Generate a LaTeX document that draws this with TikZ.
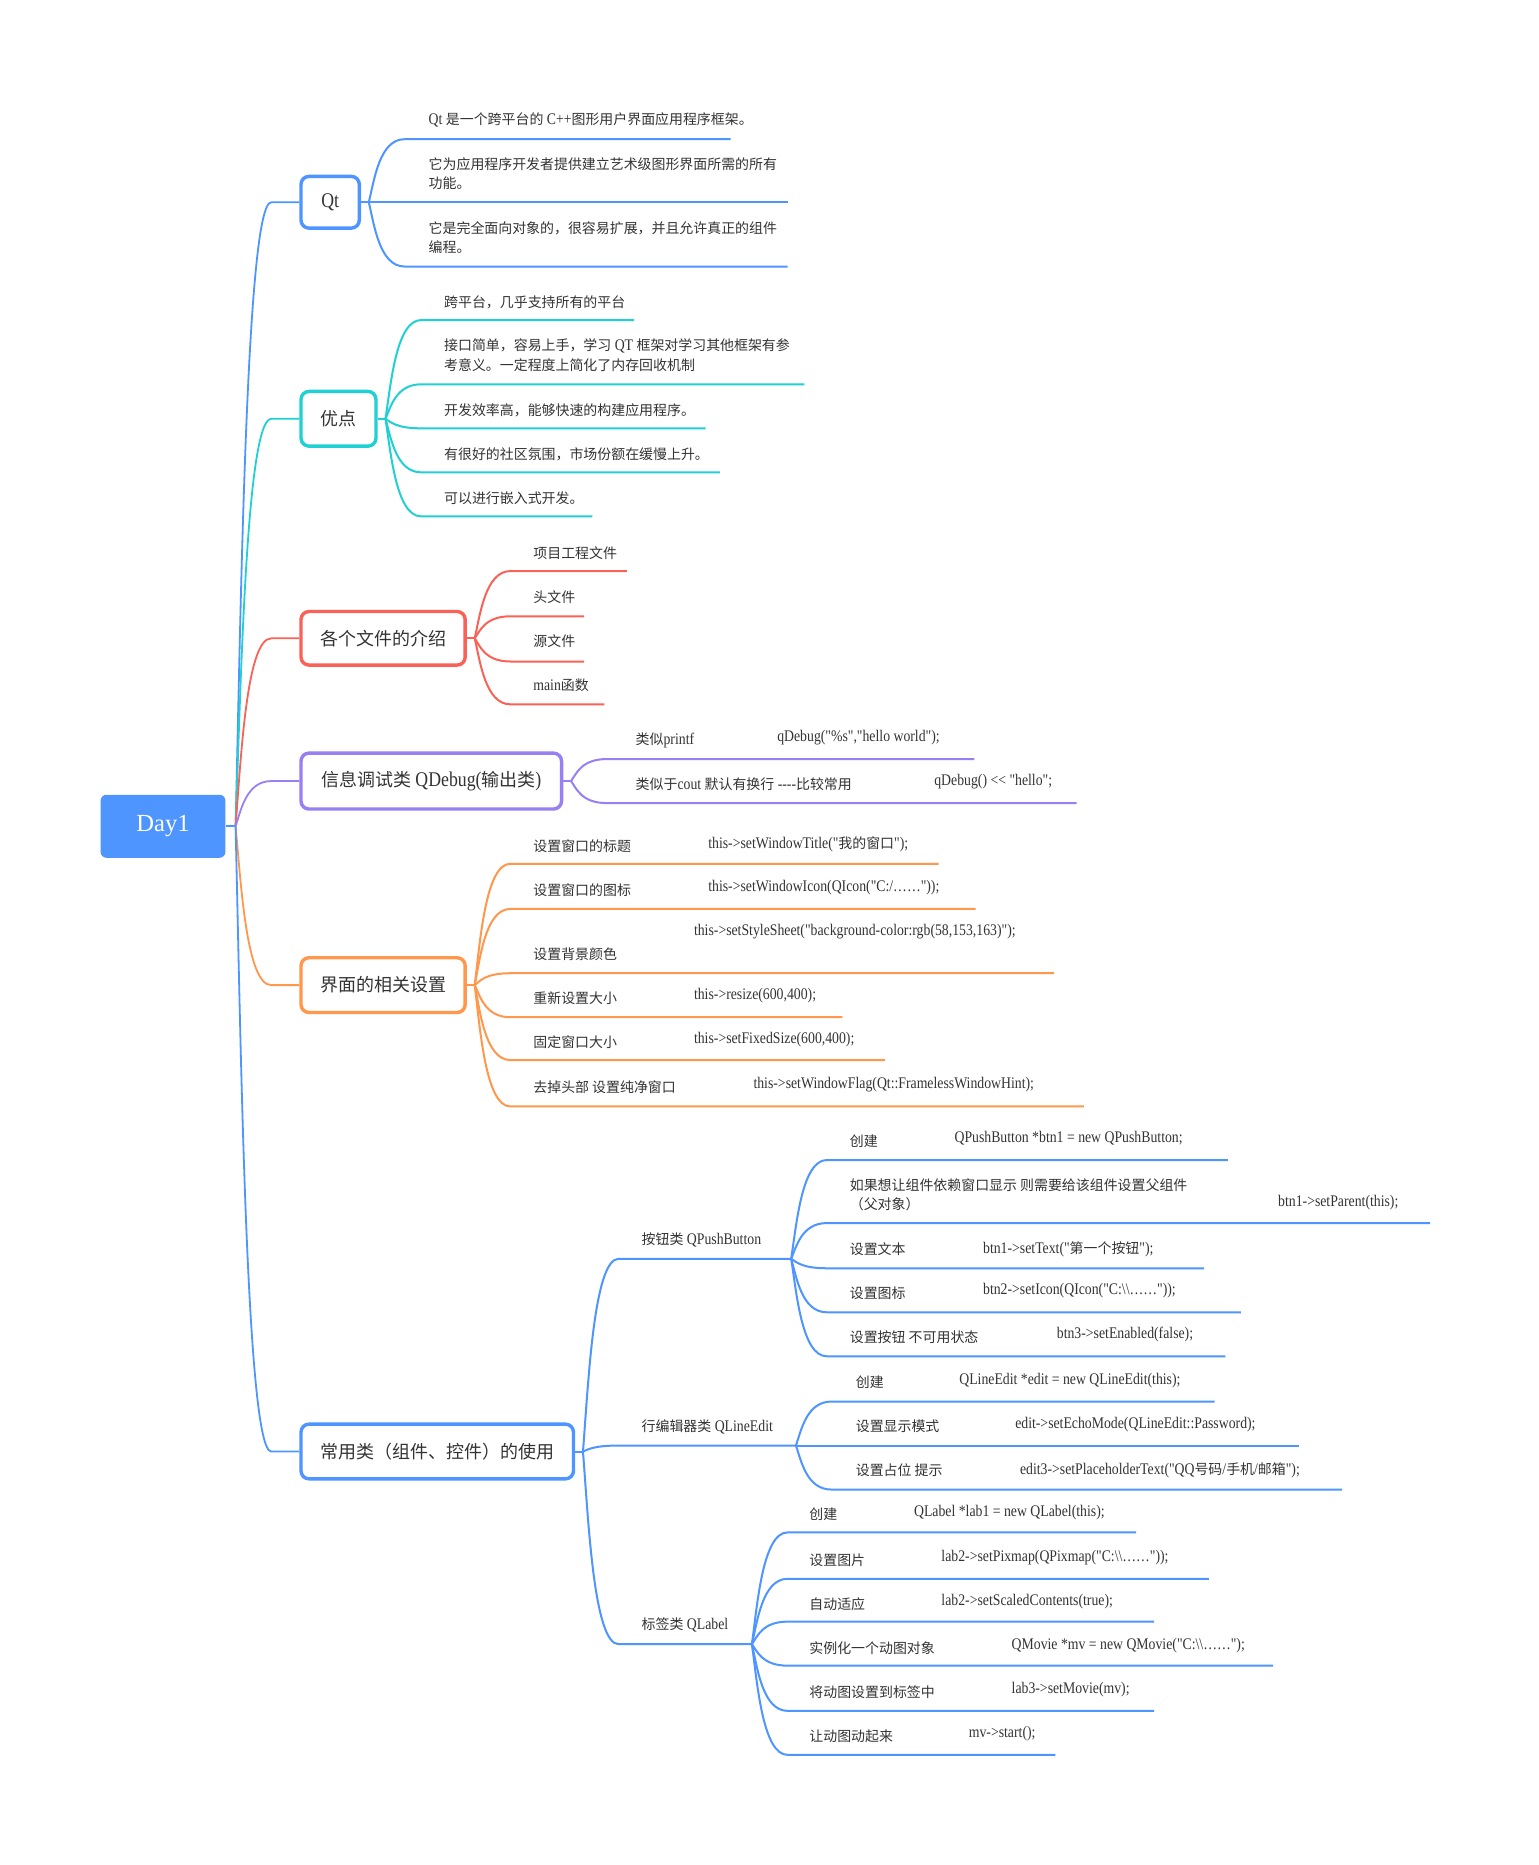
\documentclass[tikz,border=0pt]{standalone}
\usepackage{fontspec}
\setmainfont{Liberation Serif}[FakeStretch=0.85,Ligatures={TeXOff,NoCommon}]
\newfontfamily\cjk{Noto Sans CJK SC}[Scale=0.86]
\newfontfamily\dayfont{Liberation Serif}
\usetikzlibrary{calc}
\newcommand\zh[1]{{\cjk #1}}
\definecolor{cblue}{RGB}{78,149,255}
\definecolor{ccyan}{RGB}{32,208,210}
\definecolor{cred}{RGB}{250,98,88}
\definecolor{cpurple}{RGB}{152,128,243}
\definecolor{corange}{RGB}{255,151,76}
\definecolor{txt}{RGB}{51,51,51}
\def\uu{0.59487pt}
\newcommand\lf[6]{%
  \coordinate (#3s) at (#4,#5);
  \coordinate (#3e) at (#6,#5);
  \draw[leafline,#1] (#2) to[conn] (#3s) -- (#3e);}
\begin{document}
\begin{tikzpicture}[x=0.59487pt,y=-0.59487pt,
  conn/.style={to path={let \p1=(\tikztostart),\p2=(\tikztotarget) in
     .. controls ({\x1+0.15*(\x2-\x1)},{\y1+0.35*(\y2-\y1)}) and ({\x1+0.3*(\x2-\x1)},\y2) .. (\tikztotarget)}},
  leafline/.style={line width=1pt},
  rootline/.style={line width=0.9pt},
  bx/.style={draw=#1,line width=1.7pt,rounded corners=4pt,fill=white,inner sep=0pt,
     text=txt,font=\fontsize{10.45}{12.5}\selectfont},
  lbl/.style={anchor=west,inner sep=0pt,text=txt,font=\fontsize{8.1}{9.7}\selectfont},
]
\useasboundingbox (0,0) rectangle (1293.56,1567.57);
\fill[white] (0,0) rectangle (1293.56,1567.57);

% root
\node[fill=cblue,rounded corners=3pt,minimum width=105*\uu,minimum height=53*\uu,inner sep=0pt,
  text=white,font=\dayfont\fontsize{12.3}{14}\selectfont] (root) at (137,694.5) {Day1};
\coordinate (ro) at (198,694.5);
\draw[rootline,cblue] (root.east) -- (ro);

% boxes
\node[bx=cblue,minimum width=49*\uu,minimum height=43.5*\uu] (qt) at (277.5,170) {Qt};
\node[bx=ccyan,minimum width=63*\uu,minimum height=46*\uu] (yd) at (284.5,352) {\zh{优点}};
\node[bx=cred,minimum width=138*\uu,minimum height=45*\uu] (fi) at (322,536.5) {\zh{各个文件的介绍}};
\node[bx=cpurple,minimum width=219*\uu,minimum height=47*\uu] (qd) at (362.5,656.5) {\zh{信息调试类} QDebug(\zh{输出类})};
\node[bx=corange,minimum width=138*\uu,minimum height=46*\uu] (jm) at (322,828) {\zh{界面的相关设置}};
\node[bx=cblue,minimum width=229*\uu,minimum height=46*\uu] (cy) at (367.5,1220) {\zh{常用类（组件、控件）的使用}};

% root branches
\foreach \b/\c/\y in {qt/cblue/170,yd/ccyan/352,fi/cred/536.5,qd/cpurple/656.5,jm/corange/828,cy/cblue/1220}{
  \coordinate (r\b) at (228,\y);
  \draw[rootline,\c] (ro) to[conn] (r\b) -- (\b.west);
}

% ---------- Qt
\coordinate (qto) at (310,170);
\draw[leafline,cblue] (qt.east) -- (qto);
\lf{cblue}{qto}{qt1}{340}{117}{614}
\lf{cblue}{qto}{qt2}{340}{170}{662}
\lf{cblue}{qto}{qt3}{340}{224}{662}
\node[lbl] (qt1t) at (360,101) {Qt \zh{是一个跨平台的} C++\zh{图形用户界面应用程序框架。}};
\node[lbl] (qt2t) at (360,138) {\zh{它为应用程序开发者提供建立艺术级图形界面所需的所有}};
\node[lbl] (qt2u) at (360,154) {\zh{功能。}};
\node[lbl] (qt3t) at (360,192) {\zh{它是完全面向对象的，很容易扩展，并且允许真正的组件}};
\node[lbl] (qt3u) at (360,208) {\zh{编程。}};

% ---------- 优点
\coordinate (ydo) at (324,352);
\draw[leafline,ccyan] (yd.east) -- (ydo);
\lf{ccyan}{ydo}{yd1}{354}{269}{533}
\lf{ccyan}{ydo}{yd2}{354}{323}{676}
\lf{ccyan}{ydo}{yd3}{354}{360}{593}
\lf{ccyan}{ydo}{yd4}{354}{397}{605}
\lf{ccyan}{ydo}{yd5}{354}{434}{498}
\node[lbl] (yd1t) at (373,254) {\zh{跨平台，几乎支持所有的平台}};
\node[lbl] (yd2t) at (373,291) {\zh{接口简单，容易上手，学习} QT \zh{框架对学习其他框架有参}};
\node[lbl] (yd2u) at (373,307) {\zh{考意义。一定程度上简化了内存回收机制}};
\node[lbl] (yd3t) at (373,345) {\zh{开发效率高，能够快速的构建应用程序。}};
\node[lbl] (yd4t) at (373,382) {\zh{有很好的社区氛围，市场份额在缓慢上升。}};
\node[lbl] (yd5t) at (373,419) {\zh{可以进行嵌入式开发。}};

% ---------- files
\coordinate (fio) at (399,536.5);
\draw[leafline,cred] (fi.east) -- (fio);
\lf{cred}{fio}{fi1}{429}{480}{527}
\lf{cred}{fio}{fi2}{429}{518}{491}
\lf{cred}{fio}{fi3}{429}{556}{491}
\lf{cred}{fio}{fi4}{429}{592}{508}
\node[lbl] (fi1t) at (448,465) {\zh{项目工程文件}};
\node[lbl] (fi2t) at (448,502) {\zh{头文件}};
\node[lbl] (fi3t) at (448,539) {\zh{源文件}};
\node[lbl] (fi4t) at (448,576) {main\zh{函数}};

% ---------- qDebug
\coordinate (qdo) at (480,656.5);
\draw[leafline,cpurple] (qd.east) -- (qdo);
\lf{cpurple}{qdo}{qd1}{510}{638}{819}
\lf{cpurple}{qdo}{qd2}{510}{675}{905}
\node[lbl] (qd1t) at (534,622) {\zh{类似}printf};
\node[lbl] (qd1c) at (653,620) {qDebug("\%s","hello world");};
\node[lbl] (qd2t) at (534,659) {\zh{类似于}cout \zh{默认有换行} -{}-{}-{}-\zh{比较常用}};
\node[lbl] (qd2c) at (785,657) {qDebug() <{}< "hello";};

% ---------- 界面
\coordinate (jmo) at (399,828);
\draw[leafline,corange] (jm.east) -- (jmo);
\lf{corange}{jmo}{jm1}{429}{726}{789}
\lf{corange}{jmo}{jm2}{429}{764}{820}
\lf{corange}{jmo}{jm3}{429}{818}{886}
\lf{corange}{jmo}{jm4}{429}{855}{708}
\lf{corange}{jmo}{jm5}{429}{891}{744}
\lf{corange}{jmo}{jm6}{429}{930}{911}
\node[lbl] (jm1t) at (448,711) {\zh{设置窗口的标题}};
\node[lbl] (jm1c) at (595,710) {this->setWindowTitle("\zh{我的窗口}");};
\node[lbl] (jm2t) at (448,748) {\zh{设置窗口的图标}};
\node[lbl] (jm2c) at (595,746) {this->setWindowIcon(QIcon("C:/……"));};
\node[lbl] (jm3c) at (583,783) {this->setStyleSheet("background-color:rgb(58,153,163)");};
\node[lbl] (jm3t) at (448,802) {\zh{设置背景颜色}};
\node[lbl] (jm4t) at (448,839) {\zh{重新设置大小}};
\node[lbl] (jm4c) at (583,837) {this->resize(600,400);};
\node[lbl] (jm5t) at (448,876) {\zh{固定窗口大小}};
\node[lbl] (jm5c) at (583,874) {this->setFixedSize(600,400);};
\node[lbl] (jm6t) at (448,914) {\zh{去掉头部 设置纯净窗口}};
\node[lbl] (jm6c) at (633,912) {this->setWindowFlag(Qt::FramelessWindowHint);};

% ---------- 常用类
\coordinate (cyo) at (490,1220);
\draw[leafline,cblue] (cy.east) -- (cyo);
\lf{cblue}{cyo}{ca}{520}{1058}{665}
\lf{cblue}{cyo}{cb}{520}{1215}{669}
\lf{cblue}{cyo}{cc}{520}{1382}{632}
\node[lbl] (cat) at (539,1042) {\zh{按钮类} QPushButton};
\node[lbl] (cbt) at (539,1199) {\zh{行编辑器类} QLineEdit};
\node[lbl] (cct) at (539,1366) {\zh{标签类} QLabel};

% QPushButton
\lf{cblue}{cae}{a1}{695}{975}{1032}
\lf{cblue}{cae}{a2}{695}{1028}{1202}
\lf{cblue}{cae}{a3}{695}{1066}{1012}
\lf{cblue}{cae}{a4}{695}{1103}{1043}
\lf{cblue}{cae}{a5}{695}{1140}{1030}
\node[lbl] (a1t) at (714,959) {\zh{创建}};
\node[lbl] (a1c) at (802,957) {QPushButton *btn1 = new QPushButton;};
\node[lbl] (a2t) at (714,996) {\zh{如果想让组件依赖窗口显示 则需要给该组件设置父组件}};
\node[lbl] (a2u) at (714,1012) {\zh{（父对象）}};
\node[lbl] (a2c) at (1074,1011) {btn1->setParent(this);};
\node[lbl] (a3t) at (714,1050) {\zh{设置文本}};
\node[lbl] (a3c) at (826,1050) {btn1->setText("\zh{第一个按钮}");};
\node[lbl] (a4t) at (714,1087) {\zh{设置图标}};
\node[lbl] (a4c) at (826,1085) {btn2->setIcon(QIcon("C:\textbackslash\textbackslash……"));};
\node[lbl] (a5t) at (714,1124) {\zh{设置按钮 不可用状态}};
\node[lbl] (a5c) at (888,1122) {btn3->setEnabled(false);};

% QLineEdit
\lf{cblue}{cbe}{b1}{699}{1178}{1021}
\lf{cblue}{cbe}{b2}{699}{1215}{1092}
\lf{cblue}{cbe}{b3}{699}{1252}{1128}
\node[lbl] (b1t) at (719,1162) {\zh{创建}};
\node[lbl] (b1c) at (806,1160) {QLineEdit *edit = new QLineEdit(this);};
\node[lbl] (b2t) at (719,1199) {\zh{设置显示模式}};
\node[lbl] (b2c) at (853,1197) {edit->setEchoMode(QLineEdit::Password);};
\node[lbl] (b3t) at (719,1236) {\zh{设置占位 提示}};
\node[lbl] (b3c) at (857,1236) {edit3->setPlaceholderText("QQ\zh{号码}/\zh{手机}/\zh{邮箱}");};

% QLabel
\lf{cblue}{cce}{c1}{662}{1288}{955}
\lf{cblue}{cce}{c2}{662}{1327}{1016}
\lf{cblue}{cce}{c3}{662}{1363}{970}
\lf{cblue}{cce}{c4}{662}{1400}{1070}
\lf{cblue}{cce}{c5}{662}{1438}{970}
\lf{cblue}{cce}{c6}{662}{1475}{887}
\node[lbl] (c1t) at (680,1273) {\zh{创建}};
\node[lbl] (c1c) at (768,1271) {QLabel *lab1 = new QLabel(this);};
\node[lbl] (c2t) at (680,1311) {\zh{设置图片}};
\node[lbl] (c2c) at (791,1309) {lab2->setPixmap(QPixmap("C:\textbackslash\textbackslash……"));};
\node[lbl] (c3t) at (680,1348) {\zh{自动适应}};
\node[lbl] (c3c) at (791,1346) {lab2->setScaledContents(true);};
\node[lbl] (c4t) at (680,1385) {\zh{实例化一个动图对象}};
\node[lbl] (c4c) at (850,1383) {QMovie *mv = new QMovie("C:\textbackslash\textbackslash……");};
\node[lbl] (c5t) at (680,1422) {\zh{将动图设置到标签中}};
\node[lbl] (c5c) at (850,1420) {lab3->setMovie(mv);};
\node[lbl] (c6t) at (680,1459) {\zh{让动图动起来}};
\node[lbl] (c6c) at (814,1457) {mv->start();};
\end{tikzpicture}
\end{document}
